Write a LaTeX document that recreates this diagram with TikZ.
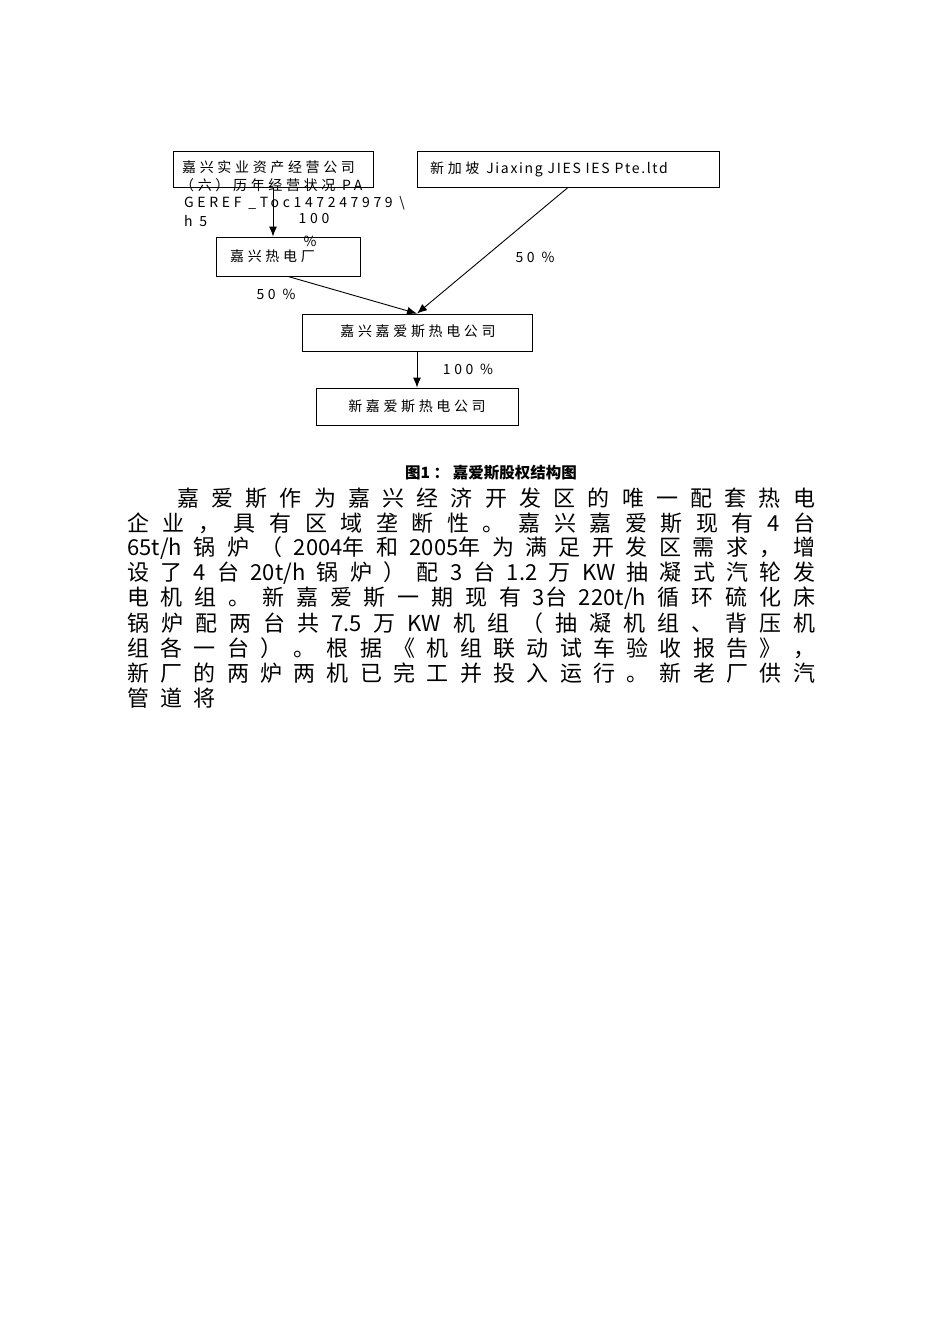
\documentclass[tikz,border=0pt]{standalone}
\usepackage{fontspec}
\setmainfont{Noto Sans CJK SC}
\newfontfamily\boxf[LetterSpace=26]{Noto Sans CJK SC}
\newfontfamily\boxl[LetterSpace=12]{Noto Sans CJK SC}
\usetikzlibrary{arrows.meta}
\begin{document}
\begin{tikzpicture}[x=1pt,y=-1pt,
  box/.style={draw,line width=0.9pt,inner sep=0pt},
  lbl/.style={inner sep=0pt,font=\boxf\fontsize{14}{14}\selectfont},
  arr/.style={line width=0.9pt,-{Latex[length=10pt,width=8pt]}},
  body/.style={inner sep=0pt,anchor=west,font=\fontsize{22}{22}\selectfont}]
\useasboundingbox (0,0) rectangle (950,1344);
% boxes
\node[box,minimum width=200pt,minimum height=36pt] (b1) at (273,169) {};
\node[box,minimum width=302pt,minimum height=36pt] (b2) at (568,169) {};
\node[box,minimum width=144pt,minimum height=39pt] (b3) at (288,256.5) {};
\node[box,minimum width=230pt,minimum height=37pt] (b4) at (417,332.5) {};
\node[box,minimum width=202pt,minimum height=37pt] (b5) at (417,406.5) {};
% box texts
\node[lbl,anchor=west] (t1a) at (182,167) {嘉兴实业资产经营公司};
\node[lbl,anchor=west] (t1b) at (180,185) {（六）历年经营状况 PA};
\node[lbl,anchor=west] (t1c) at (184,203) {GEREF \_Toc147247979 \textbackslash};
\node[lbl,anchor=west] (t1d) at (184,221) {h 5};
\node[lbl,anchor=west] (t2) at (430,169) {新加坡 {\boxl Jiaxing JIES IES Pte.ltd}};
\node[lbl,anchor=west] (t3) at (230,256) {嘉兴热电厂};
\node[lbl] (t4) at (418,331) {嘉兴嘉爱斯热电公司};
\node[lbl] (t5) at (417,406) {新嘉爱斯热电公司};
% connectors
\draw[arr] (b1.south) -- (b1.south |- b3.north);
\draw[arr] (b3.south) -- (b4.north);
\draw[arr] (b2.south) -- (b4.north);
\draw[arr] (b4.south) -- (b5.north);
% percentages
\node[lbl] (p1) at (314,219) {100};
\node[lbl] (p1b) at (310,241) {\%};
\node[lbl] (p2) at (535,257) {50 \%};
\node[lbl] (p3) at (276,294) {50 \%};
\node[lbl] (p4) at (468,369) {100 \%};
% caption
\node[inner sep=0pt,font=\bfseries\fontsize{15.5}{15.5}\selectfont] (cap) at (491,473) {图1 ： 嘉爱斯股权结构图};
% body text
\node[body] (l1) at (177,498) {\makebox[638pt][s]{嘉 爱 斯 作 为 嘉 兴 经 济 开 发 区 的 唯 一 配 套 热 电}};
\node[body] (l2) at (127,523) {\makebox[688pt][s]{企 业 ， 具 有 区 域 垄 断 性 。 嘉 兴 嘉 爱 斯 现 有 4 台}};
\node[body] (l3) at (127,548) {\makebox[688pt][s]{65t/h 锅 炉 （ 2004年 和 2005年 为 满 足 开 发 区 需 求 ， 增}};
\node[body] (l4) at (127,573) {\makebox[688pt][s]{设 了 4 台 20t/h 锅 炉 ） 配 3 台 1.2 万 KW 抽 凝 式 汽 轮 发}};
\node[body] (l5) at (127,598) {\makebox[688pt][s]{电 机 组 。 新 嘉 爱 斯 一 期 现 有 3台 220t/h 循 环 硫 化 床}};
\node[body] (l6) at (127,623) {\makebox[688pt][s]{锅 炉 配 两 台 共 7.5 万 KW 机 组 （ 抽 凝 机 组 、 背 压 机}};
\node[body] (l7) at (127,648) {\makebox[688pt][s]{组 各 一 台 ） 。 根 据 《 机 组 联 动 试 车 验 收 报 告 》 ，}};
\node[body] (l8) at (127,673) {\makebox[688pt][s]{新 厂 的 两 炉 两 机 已 完 工 并 投 入 运 行 。 新 老 厂 供 汽}};
\node[body] (l9) at (127,698) {\makebox[88pt][s]{管 道 将}};
\end{tikzpicture}
\end{document}
